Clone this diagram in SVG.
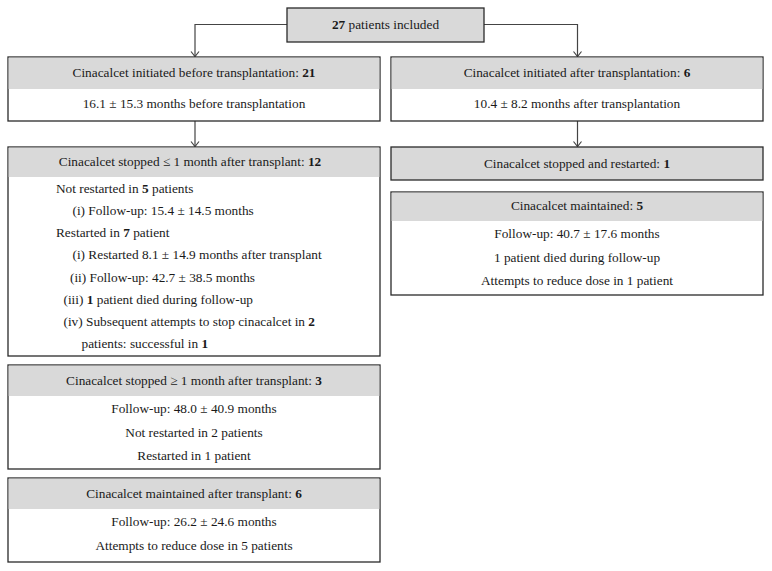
<svg xmlns="http://www.w3.org/2000/svg" width="772" height="571" viewBox="0 0 772 571">
<style>
.box{fill:#ffffff;stroke:#2a2a2a;stroke-width:1.3}
.hd{fill:#d9d9d9}
.t{font-family:"Liberation Serif","Times New Roman",serif;font-size:13.3px;fill:#1a1a1a}
.c{text-anchor:middle}
.b{font-weight:bold}
.conn{fill:none;stroke:#444;stroke-width:1.2}
</style>
<defs>
<marker id="arr" markerUnits="userSpaceOnUse" markerWidth="10" markerHeight="10" viewBox="0 0 10 10" refX="9.5" refY="5" orient="auto">
<path d="M4.5,1 L9.5,5 L4.5,9" fill="none" stroke="#444" stroke-width="1.2"/>
</marker>
</defs>
<rect width="772" height="571" fill="#ffffff"/>
<g id="connectors">
<path class="conn" d="M287,24.5 H195 V56.5" marker-end="url(#arr)"/>
<path class="conn" d="M484,24.5 H577.5 V56.5" marker-end="url(#arr)"/>
<path class="conn" d="M195,121 V146.5" marker-end="url(#arr)"/>
<path class="conn" d="M577.5,121 V146.5" marker-end="url(#arr)"/>
</g>
<g id="n-top">
<rect x="287" y="8" width="197" height="34" fill="#d9d9d9" stroke="#2a2a2a" stroke-width="1.3"/>
<text class="t c" x="385.5" y="28.5"><tspan class="b">27</tspan> patients included</text>
</g>
<g id="n-before">
<rect class="box" x="8" y="57" width="372" height="64"/>
<rect class="hd" x="8.65" y="57.65" width="370.7" height="31.35"/>
<text class="t c" x="194" y="77"><tspan>Cinacalcet initiated before transplantation: </tspan><tspan class="b">21</tspan></text>
<text class="t c" x="194" y="108">16.1 ± 15.3 months before transplantation</text>
</g>
<g id="n-after">
<rect class="box" x="391" y="57" width="372" height="64"/>
<rect class="hd" x="391.65" y="57.65" width="370.7" height="31.35"/>
<text class="t c" x="577" y="77"><tspan>Cinacalcet initiated after transplantation: </tspan><tspan class="b">6</tspan></text>
<text class="t c" x="577" y="108">10.4 ± 8.2 months after transplantation</text>
</g>
<g id="n-stopped-le1">
<rect class="box" x="8" y="147" width="372" height="209"/>
<rect class="hd" x="8.65" y="147.65" width="370.7" height="29.35"/>
<text class="t c" x="190" y="166"><tspan>Cinacalcet stopped ≤ 1 month after transplant: </tspan><tspan class="b">12</tspan></text>
<text class="t" x="56" y="192.5">Not restarted in <tspan class="b">5</tspan> patients</text>
<text class="t" x="72.5" y="215">(i) Follow-up: 15.4 ± 14.5 months</text>
<text class="t" x="56" y="237">Restarted in <tspan class="b">7</tspan> patient</text>
<text class="t" x="72.5" y="259">(i) Restarted 8.1 ± 14.9 months after transplant</text>
<text class="t" x="70" y="281.5">(ii) Follow-up: 42.7 ± 38.5 months</text>
<text class="t" x="63.5" y="304">(iii) <tspan class="b">1</tspan> patient died during follow-up</text>
<text class="t" x="63.5" y="326">(iv) Subsequent attempts to stop cinacalcet in <tspan class="b">2</tspan></text>
<text class="t" x="81.5" y="348">patients: successful in <tspan class="b">1</tspan></text>
</g>
<g id="n-stopped-ge1">
<rect class="box" x="8" y="365" width="372" height="104"/>
<rect class="hd" x="8.65" y="365.65" width="370.7" height="30.35"/>
<text class="t c" x="194" y="384.5"><tspan>Cinacalcet stopped ≥ 1 month after transplant: </tspan><tspan class="b">3</tspan></text>
<text class="t c" x="194" y="412.5">Follow-up: 48.0 ± 40.9 months</text>
<text class="t c" x="194" y="436.5">Not restarted in 2 patients</text>
<text class="t c" x="194" y="460">Restarted in 1 patient</text>
</g>
<g id="n-maintained-after">
<rect class="box" x="8" y="478" width="372" height="84"/>
<rect class="hd" x="8.65" y="478.65" width="370.7" height="30.35"/>
<text class="t c" x="194" y="498"><tspan>Cinacalcet maintained after transplant: </tspan><tspan class="b">6</tspan></text>
<text class="t c" x="194" y="525.5">Follow-up: 26.2 ± 24.6 months</text>
<text class="t c" x="194" y="550">Attempts to reduce dose in 5 patients</text>
</g>
<g id="n-stopped-restarted">
<rect x="391" y="147" width="372" height="33" fill="#d9d9d9" stroke="#2a2a2a" stroke-width="1.3"/>
<text class="t c" x="577" y="167.5"><tspan>Cinacalcet stopped and restarted: </tspan><tspan class="b">1</tspan></text>
</g>
<g id="n-maintained">
<rect class="box" x="391" y="192" width="372" height="103"/>
<rect class="hd" x="391.65" y="192.65" width="370.7" height="28.35"/>
<text class="t c" x="577" y="210"><tspan>Cinacalcet maintained: </tspan><tspan class="b">5</tspan></text>
<text class="t c" x="577" y="237.5">Follow-up: 40.7 ± 17.6 months</text>
<text class="t c" x="577" y="261.5">1 patient died during follow-up</text>
<text class="t c" x="577" y="285">Attempts to reduce dose in 1 patient</text>
</g>
</svg>
